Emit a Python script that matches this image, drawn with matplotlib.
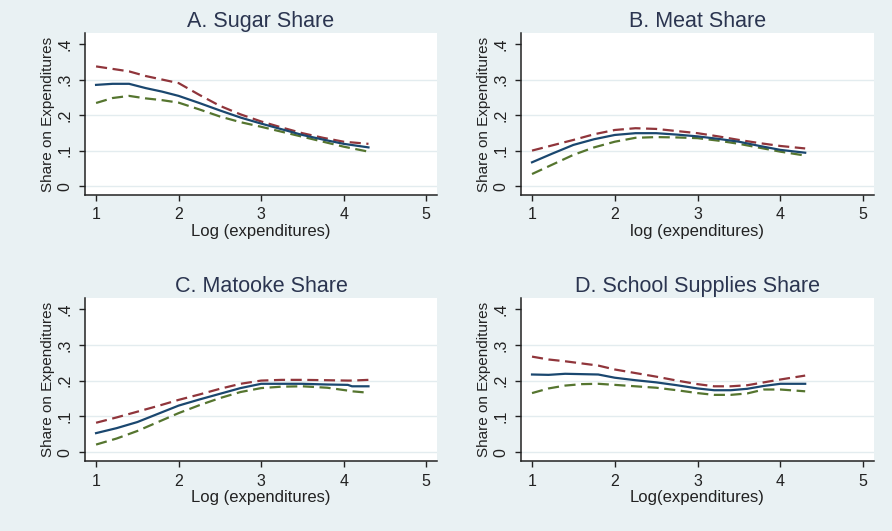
import matplotlib
matplotlib.use("Agg")
import matplotlib.pyplot as plt

plt.rcParams['font.family'] = ['Liberation Sans', 'DejaVu Sans']

# x positions of read points (log expenditures)
xa = [1.0, 1.2, 1.4, 1.6, 1.8, 2.0, 2.25, 2.5, 2.75, 3.0, 3.25, 3.5, 3.75, 4.0, 4.3]
sugar_fit = [0.285, 0.288, 0.288, 0.276, 0.266, 0.254, 0.234, 0.213, 0.193, 0.176, 0.160, 0.144, 0.131, 0.119, 0.109]
sugar_hi = [0.337, 0.330, 0.323, 0.310, 0.300, 0.290, 0.257, 0.226, 0.202, 0.182, 0.165, 0.149, 0.136, 0.125, 0.119]
sugar_lo = [0.234, 0.248, 0.254, 0.247, 0.242, 0.235, 0.216, 0.196, 0.180, 0.167, 0.153, 0.139, 0.125, 0.111, 0.097]

xb = [1.0, 1.25, 1.5, 1.75, 2.0, 2.25, 2.5, 2.75, 3.0, 3.25, 3.5, 3.75, 4.0, 4.3]
meat_fit = [0.067, 0.092, 0.116, 0.132, 0.144, 0.149, 0.149, 0.145, 0.140, 0.133, 0.125, 0.113, 0.102, 0.094]
meat_hi = [0.100, 0.115, 0.130, 0.146, 0.158, 0.163, 0.161, 0.155, 0.149, 0.140, 0.130, 0.121, 0.113, 0.106]
meat_lo = [0.034, 0.061, 0.088, 0.109, 0.125, 0.136, 0.138, 0.137, 0.135, 0.128, 0.119, 0.108, 0.097, 0.086]

xc = [1.0, 1.25, 1.5, 1.75, 2.0, 2.25, 2.5, 2.75, 3.0, 3.25, 3.5, 3.8, 4.05, 4.1, 4.3]
matooke_fit = [0.053, 0.067, 0.084, 0.107, 0.130, 0.147, 0.163, 0.179, 0.191, 0.191, 0.191, 0.189, 0.188, 0.184, 0.184]
matooke_hi = [0.082, 0.097, 0.113, 0.129, 0.146, 0.161, 0.177, 0.191, 0.200, 0.202, 0.202, 0.201, 0.200, 0.200, 0.202]
matooke_lo = [0.021, 0.038, 0.059, 0.084, 0.109, 0.131, 0.151, 0.168, 0.179, 0.183, 0.184, 0.180, 0.172, 0.170, 0.166]

xd = [1.0, 1.2, 1.4, 1.6, 1.8, 2.0, 2.25, 2.5, 2.75, 3.0, 3.2, 3.4, 3.6, 3.8, 4.0, 4.3]
school_fit = [0.217, 0.216, 0.219, 0.218, 0.217, 0.208, 0.201, 0.195, 0.187, 0.178, 0.173, 0.173, 0.177, 0.185, 0.191, 0.191]
school_hi = [0.267, 0.259, 0.254, 0.248, 0.242, 0.231, 0.221, 0.211, 0.200, 0.190, 0.184, 0.184, 0.187, 0.195, 0.203, 0.214]
school_lo = [0.165, 0.178, 0.186, 0.190, 0.191, 0.188, 0.184, 0.180, 0.173, 0.165, 0.160, 0.160, 0.164, 0.175, 0.175, 0.170]

panels = [
    ("A. Sugar Share", "Log (expenditures)", xa, sugar_fit, sugar_hi, sugar_lo),
    ("B. Meat Share", "log (expenditures)", xb, meat_fit, meat_hi, meat_lo),
    ("C. Matooke Share", "Log (expenditures)", xc, matooke_fit, matooke_hi, matooke_lo),
    ("D. School Supplies Share", "Log(expenditures)", xd, school_fit, school_hi, school_lo),
]
boxes = [
    [0.0953, 0.6328, 0.3946, 0.305],
    [0.584, 0.6328, 0.3957, 0.305],
    [0.0953, 0.1318, 0.3946, 0.307],
    [0.584, 0.1318, 0.3957, 0.307],
]

bg = '#e9f1f3'
fig = plt.figure(figsize=(8.92, 5.31), dpi=100, facecolor=bg)

for (title, xlab, x, fit, hi, lo), box in zip(panels, boxes):
    ax = fig.add_axes(box)
    ax.set_facecolor('white')
    ax.plot(x, hi, color='#90353b', lw=1.6, dashes=(5, 2.5))
    ax.plot(x, lo, color='#55752f', lw=1.6, dashes=(5, 2.5))
    ax.plot(x, fit, color='#1a476f', lw=1.6)
    ax.set_xlim(0.866, 5.13)
    ax.set_ylim(-0.025, 0.431)
    ax.set_xticks([1, 2, 3, 4, 5])
    ax.set_yticks([0, 0.1, 0.2, 0.3, 0.4])
    ax.set_yticklabels(['0', '.1', '.2', '.3', '.4'], rotation=90, va='center')
    for yv in [0, 0.1, 0.2, 0.3]:
        ax.axhline(yv, color='#e3ecef', lw=1.0, zorder=0)
    ax.spines['top'].set_visible(False)
    ax.spines['right'].set_visible(False)
    ax.spines['left'].set_color('#222222')
    ax.spines['bottom'].set_color('#222222')
    ax.spines['left'].set_linewidth(1.1)
    ax.spines['bottom'].set_linewidth(1.1)
    ax.tick_params(direction='out', length=4, width=1.0, colors='#222222', labelsize=11.5, pad=5)
    ax.set_title(title, fontsize=15.5, color='#2b3550', pad=4)
    ax.set_xlabel(xlab, fontsize=12, color='#222222', labelpad=1)
    ax.set_ylabel('Share on Expenditures', fontsize=11, color='#222222', labelpad=2)

fig.savefig('out.png', dpi=100, facecolor=bg)
